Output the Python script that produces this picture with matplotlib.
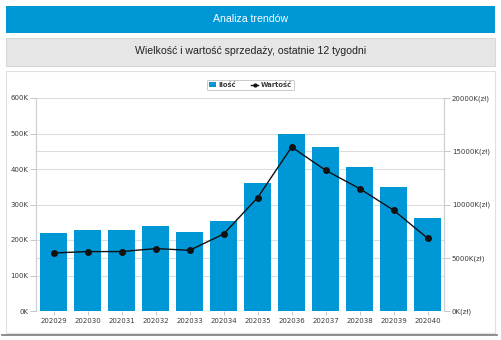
import matplotlib
matplotlib.use("Agg")
import matplotlib.pyplot as plt
from matplotlib.patches import Rectangle
from matplotlib.lines import Line2D
from matplotlib.ticker import FuncFormatter, MultipleLocator

# Weekly sales data
weeks = ["202029", "202030", "202031", "202032", "202033", "202034",
         "202035", "202036", "202037", "202038", "202039", "202040"]
quantity = [221000, 228000, 228000, 239000, 223000, 253000,
            360000, 499000, 462000, 407000, 350000, 261000]
value_zl = [5450000, 5580000, 5580000, 5860000, 5700000, 7230000,
            10650000, 15400000, 13210000, 11490000, 9460000, 6830000]

title = "Analiza trendów"
subtitle = "Wielkość i wartość sprzedaży, ostatnie 12 tygodni"
legend_labels = ["Ilość", "Wartość"]

QTY_MAX = 600000
VAL_MAX = 20000000
VAL_STEP = 5000000

W, H = 502, 340
BLUE = "#0097D7"
TXT = "#3a3a3a"
GRID = "#dcdcdc"

fig = plt.figure(figsize=(W / 100, H / 100), dpi=100)
fig.patch.set_facecolor("white")


def fx(px):
    return px / W


def fy(py):
    return 1 - py / H


def rect(x0, y0, x1, y1, **kw):
    fig.patches.append(Rectangle((fx(x0), fy(y1)), fx(x1) - fx(x0), fy(y0) - fy(y1),
                                 transform=fig.transFigure, zorder=-5, **kw))


# Header bars
rect(6, 5.5, 495, 32.5, facecolor=BLUE, edgecolor="none")
fig.text(fx(250.5), fy(19), title, ha="center", va="center", color="white",
         fontsize=7.6, family="Liberation Sans")
rect(6, 37.5, 495, 65.5, facecolor="#e6e6e6", edgecolor="#d2d2d2", linewidth=0.6)
fig.text(fx(250.5), fy(51.5), subtitle, ha="center", va="center", color="#222222",
         fontsize=7.6, family="Liberation Sans")

# Chart panel
rect(5.5, 70.5, 495, 333, facecolor="white", edgecolor="#e0e0e0", linewidth=0.8)
fig.lines.append(Line2D([fx(2), fx(497)], [fy(335), fy(335)], transform=fig.transFigure,
                        color="#7a7a7a", linewidth=1.2, zorder=-4))

# Plot area
ax = fig.add_axes([fx(36), fy(311), fx(444.3) - fx(36), fy(98) - fy(311)])
ax.set_facecolor("none")
x = list(range(len(weeks)))
ax.bar(x, quantity, width=0.8, color=BLUE, zorder=2)
ax.set_xlim(-0.52, 11.49)
ax.set_ylim(0, QTY_MAX)
ax.yaxis.set_major_locator(MultipleLocator(100000))
ax.yaxis.set_major_formatter(FuncFormatter(lambda v, p: f"{int(round(v / 1000))}K"))
# grid lines of the value axis, expressed on the quantity scale
ax.set_yticks([v * QTY_MAX / VAL_MAX for v in range(0, VAL_MAX + 1, VAL_STEP)], minor=True)
ax.tick_params(axis="y", which="minor", length=0)
ax.set_xticks(x)
ax.set_xticklabels(weeks)
ax.grid(axis="y", which="both", color=GRID, linewidth=0.8, zorder=0)
ax.set_axisbelow(True)

ax2 = ax.twinx()
ax2.set_ylim(0, VAL_MAX)
ax2.yaxis.set_major_locator(MultipleLocator(VAL_STEP))
ax2.yaxis.set_major_formatter(FuncFormatter(lambda v, p: f"{int(round(v / 1000))}K(zł)"))
ax2.plot(x, value_zl, color="#111111", linewidth=1.0, marker="o", markersize=4,
         zorder=3)

for a in (ax, ax2):
    for s in ("top", "bottom"):
        a.spines[s].set_visible(False)
    a.spines["left"].set_color("#cfcfcf")
    a.spines["right"].set_color("#cfcfcf")
    a.spines["left"].set_linewidth(0.8)
    a.spines["right"].set_linewidth(0.8)
    a.tick_params(axis="both", which="major", colors="#bdbdbd", labelcolor=TXT,
                  labelsize=5, length=4, width=0.6)
ax.tick_params(axis="x", length=3, pad=2)
ax.tick_params(axis="y", which="major", pad=1.5)
ax2.tick_params(axis="y", pad=1.5)
for lbl in ax.get_xticklabels() + ax.get_yticklabels() + ax2.get_yticklabels():
    lbl.set_family("DejaVu Sans")

# Legend
handles = [Rectangle((0, 0), 1, 1, facecolor=BLUE, edgecolor="none"),
           Line2D([0], [0], color="#111111", linewidth=1.0, marker="o", markersize=2)]
leg = fig.legend(handles, legend_labels, loc="center", bbox_to_anchor=(fx(250.5), fy(85)),
                 ncol=2, frameon=True, fancybox=True, handlelength=1.0,
                 handleheight=0.8, handletextpad=0.4, columnspacing=2.2,
                 borderpad=0.35, prop={"weight": "bold", "size": 4.9})
leg.get_frame().set_edgecolor("#bdbdbd")
leg.get_frame().set_linewidth(0.7)
for t in leg.get_texts():
    t.set_color(TXT)

fig.savefig("out.png", dpi=100)
